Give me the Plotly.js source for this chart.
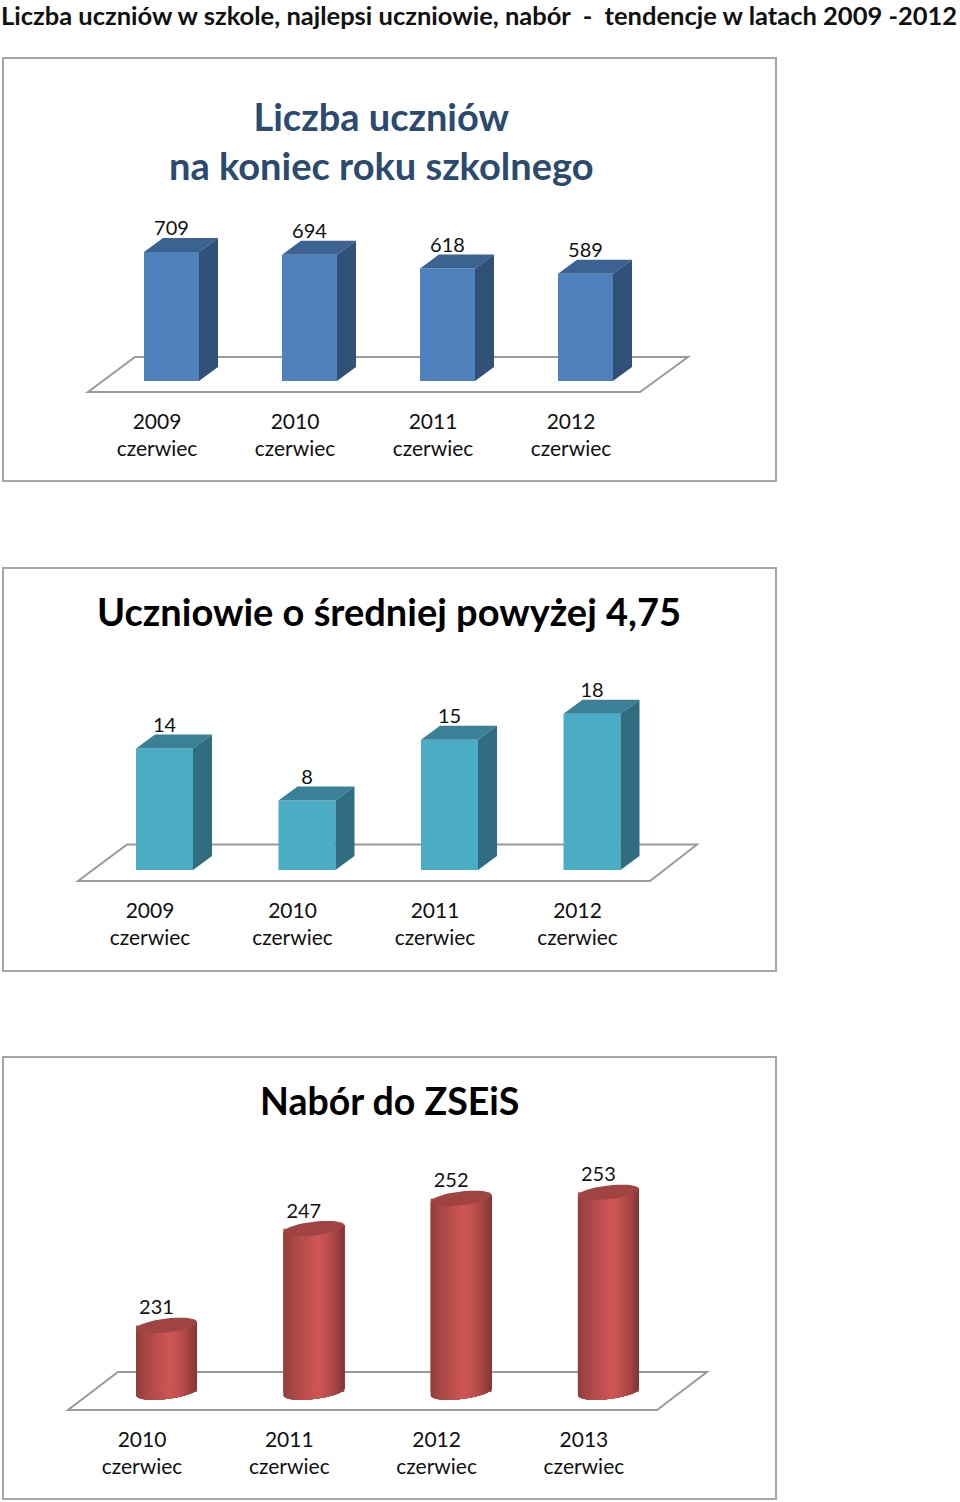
<!DOCTYPE html>
<html><head><meta charset="utf-8">
<script src="https://cdn.plot.ly/plotly-3.0.1.min.js"></script>
<style>html,body{margin:0;padding:0;background:#fff}#c{width:960px;height:1502px}</style>
</head><body><div id="c"></div>
<script>
const pageTitle = "Liczba uczniów w szkole, najlepsi uczniowie, nabór \u00a0-\u00a0 tendencje w latach 2009 -2012";
const labels1 = ["2009<br>czerwiec","2010<br>czerwiec","2011<br>czerwiec","2012<br>czerwiec"];
const values1 = [709,694,618,589];
const labels2 = ["2009<br>czerwiec","2010<br>czerwiec","2011<br>czerwiec","2012<br>czerwiec"];
const values2 = [14,8,15,18];
const labels3 = ["2010<br>czerwiec","2011<br>czerwiec","2012<br>czerwiec","2013<br>czerwiec"];
const values3 = [231,247,252,253];

const W=960,H=1502,FONT="Lato, 'Open Sans', sans-serif",INK="#111";
const charts=[
 {n:"",labels:labels1,values:values1,title:"Liczba uczniów<br>na koniec roku szkolnego",titleColor:"#2a4a70",titleX:381,titleY:141,titleSize:38,
  panel:[3,58,776,481],tick0:157,spacing:138,front:[-13,55],base:381,axisBottom:406.5,pxPerUnit:.182,v0:0,depth:[19,14],labelDy:22,
  plat:{fy:392,by:357,fl:88,fr:640,bl:135,br:688},colors:["#4f81bd","#3c6291","#325178"]},
 {n:"2",labels:labels2,values:values2,title:"Uczniowie o średniej powyżej 4,75",titleColor:"#000",titleX:389,titleY:611,titleSize:38,
  panel:[3,568,776,971],tick0:150,spacing:142.5,front:[-14,57],base:870,axisBottom:895.5,pxPerUnit:8.68,v0:0,depth:[19,14],labelDy:21.5,
  plat:{fy:881,by:844.5,fl:78,fr:650,bl:127,br:697},colors:["#4bacc6","#3a8198","#306d80"]},
 {n:"3",labels:labels3,values:values3,title:"Nabór do ZSEiS",titleColor:"#000",titleX:389,titleY:1100,titleSize:37.5,
  panel:[3,1057,776,1499],tick0:142,spacing:147.3,front:[-6,61],base:1392,axisBottom:1424.5,pxPerUnit:6.05,v0:220,depth:null,labelDy:16,
  plat:{fy:1410,by:1372,fl:68,fr:657,bl:118,br:707},colors:["#c0504d","#a04442","#8a3c3a"],cyl:{a:30.5,b:7,s:3.5}}
];
const traces=[],shapes=[],annotations=[],layout={};
function mix(a,b,t){return "rgb("+a.map((v,i)=>Math.round(v+(b[i]-v)*t)).join(",")+")";}
function cylColor(u){const e=[128,54,52],m=[205,86,84];const p=.55;return u<p?mix([138,60,58],m,Math.pow(u/p,.7)):mix(m,e,Math.pow((u-p)/(1-p),1.5));}

charts.forEach(c=>{
 const [pl,pt,pr,pb]=c.panel, xa="x"+c.n, ya="y"+c.n;
 const xOf=px=>(px-c.tick0)/c.spacing, yOf=py=>c.v0+(c.base-py)/c.pxPerUnit;
 const dX=px=>px/c.spacing, dY=py=>py/c.pxPerUnit;
 const idx=c.values.map((_,i)=>i);
 layout["xaxis"+c.n]={domain:[(pl+1)/W,(pr-1)/W],range:[xOf(pl+1),xOf(pr-1)],anchor:ya,tickmode:"array",tickvals:idx,ticktext:c.labels,
   showgrid:false,zeroline:false,showline:false,ticks:"",tickangle:0,tickfont:{family:FONT,size:21,color:INK},automargin:false};
 layout["yaxis"+c.n]={domain:[1-c.axisBottom/H,1-(pt+1)/H],range:[yOf(c.axisBottom),yOf(pt+1)],anchor:xa,visible:false};
 shapes.push({type:"rect",xref:"paper",yref:"paper",x0:pl/W,x1:pr/W,y0:1-pb/H,y1:1-pt/H,line:{color:"#a6a6a6",width:2},layer:"below"});
 const p=c.plat;
 shapes.push({type:"path",xref:xa,yref:ya,layer:"below",line:{color:"#9a9a9a",width:2},
   path:`M${xOf(p.fl)},${yOf(p.fy)}L${xOf(p.fr)},${yOf(p.fy)}L${xOf(p.br)},${yOf(p.by)}L${xOf(p.bl)},${yOf(p.by)}Z`});
 annotations.push({xref:"paper",yref:"paper",x:c.titleX/W,y:1-c.titleY/H,text:"<b>"+c.title+"</b>",showarrow:false,xanchor:"center",yanchor:"middle",align:"center",
   font:{family:FONT,size:c.titleSize,color:c.titleColor}});
 const [fo,fw]=c.front;
 traces.push({type:"bar",x:idx,y:c.values.map(v=>v-c.v0),base:c.v0,width:fw/c.spacing,offset:dX(fo),xaxis:xa,yaxis:ya,marker:{color:c.colors[0],line:{width:0}},hoverinfo:"skip",showlegend:false});
 if(c.depth){
  const [dx,dy]=c.depth,side={x:[],y:[]},top={x:[],y:[]};
  c.values.forEach((v,i)=>{
   const l=i+dX(fo),r=l+dX(fw),ox=dX(dx),oy=dY(dy);
   top.x.push(l,r,r+ox,l+ox,l,null);top.y.push(v,v,v+oy,v+oy,v,null);
   side.x.push(r,r+ox,r+ox,r,r,null);side.y.push(c.v0,c.v0+oy,v+oy,v,c.v0,null);
  });
  traces.push({type:"scatter",mode:"lines",x:top.x,y:top.y,fill:"toself",fillcolor:c.colors[1],line:{width:0},xaxis:xa,yaxis:ya,hoverinfo:"skip",showlegend:false});
  traces.push({type:"scatter",mode:"lines",x:side.x,y:side.y,fill:"toself",fillcolor:c.colors[2],line:{width:0},xaxis:xa,yaxis:ya,hoverinfo:"skip",showlegend:false});
 } else {
  const {b,s}=c.cyl,N=32,S=48;
  const low=(u,v)=>{const ct=2*u-1,st=Math.sqrt(Math.max(0,1-ct*ct));return v-dY(-s*ct+b*st);};
  for(let k=0;k<N;k++){
   const u0=k/N,xs=[],ys=[];
   c.values.forEach((v,i)=>{
    const l=i+dX(fo),wd=dX(fw);
    for(let j=0;j<=S;j++){const ang=Math.acos(1-2*u0)+(Math.PI-Math.acos(1-2*u0))*j/S,u=(1-Math.cos(ang))/2;xs.push(l+wd*u);ys.push(low(u,c.v0));}
    xs.push(l+wd,l+wd*u0,l+wd*u0);ys.push(low(1,v),low(u0,v),low(u0,c.v0));
    xs.push(null);ys.push(null);
   });
   traces.push({type:"scatter",mode:"lines",x:xs,y:ys,fill:"toself",fillcolor:cylColor((k+.5)/N),line:{width:0},xaxis:xa,yaxis:ya,hoverinfo:"skip",showlegend:false});
  }
  const cx=[],cy=[];
  c.values.forEach((v,i)=>{
   const l=i+dX(fo),wd=dX(fw);
   for(let j=0;j<=48;j++){const t=j/48*2*Math.PI,ct=Math.cos(t),st=Math.sin(t);
    cx.push(l+wd*(1+ct)/2);cy.push(v-dY(-s*ct+b*st));}
   cx.push(null);cy.push(null);
  });
  traces.push({type:"scatter",mode:"lines",x:cx,y:cy,fill:"toself",fillcolor:c.colors[1],line:{width:0},xaxis:xa,yaxis:ya,hoverinfo:"skip",showlegend:false});
 }
 traces.push({type:"scatter",mode:"text",x:idx.map(i=>i+dX(14.5)),y:c.values.map(v=>v+dY(c.labelDy)),text:c.values.map(String),textposition:"middle center",
   textfont:{family:FONT,size:20,color:INK},cliponaxis:false,xaxis:xa,yaxis:ya,hoverinfo:"skip",showlegend:false});
});
Object.assign(layout,{width:W,height:H,margin:{l:0,r:0,t:0,b:0},paper_bgcolor:"#fff",plot_bgcolor:"rgba(0,0,0,0)",showlegend:false,barmode:"overlay",
 title:{text:"<b>"+pageTitle+"</b>",x:0.001,xref:"paper",xanchor:"left",y:1-16/H,yref:"paper",yanchor:"middle",font:{family:FONT,size:25.5,color:INK}},
 shapes,annotations});
Plotly.newPlot("c",traces,layout,{staticPlot:true,displayModeBar:false});
</script></body></html>
